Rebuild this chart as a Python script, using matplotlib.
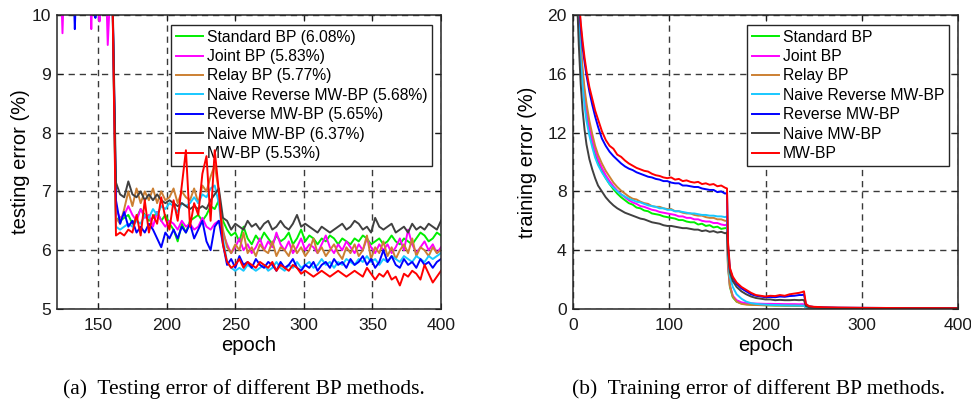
import matplotlib
matplotlib.use("Agg")
import matplotlib.pyplot as plt

plt.rcParams['font.family'] = ['Liberation Sans', 'DejaVu Sans']

labels_test = ["Standard BP (6.08%)", "Joint BP (5.83%)", "Relay BP (5.77%)",
               "Naive Reverse MW-BP (5.68%)", "Reverse MW-BP (5.65%)",
               "Naive MW-BP (6.37%)", "MW-BP (5.53%)"]
labels_train = ["Standard BP", "Joint BP", "Relay BP", "Naive Reverse MW-BP",
                "Reverse MW-BP", "Naive MW-BP", "MW-BP"]
colors = ["#00ee00", "#ff00ff", "#cc8033", "#19c8ff", "#0000ff", "#404040", "#ff0000"]

test_epochs = list(range(121, 401, 3))

std_test = [12, 12, 12, 12, 12, 12, 12, 12, 12, 12,
            12, 12, 12, 11, 6.55, 6.5, 6.55, 6.6, 6.45, 6.55,
            6.7, 6.6, 6.5, 6.55, 6.65, 6.5, 6.6, 6.45, 6.35, 6.15,
            6.45, 6.3, 6.5, 6.55, 6.6, 6.5, 6.6, 6.75, 6.7, 6.85,
            6.5, 6.35, 6.25, 6.3, 6.15, 6.4, 6.2, 6.1, 6.25, 6.15,
            6.3, 6.2, 6.1, 6.25, 6.15, 6.2, 6.3, 6.1, 6.2, 6.35,
            6.15, 6.25, 6.2, 6.1, 6.2, 6.15, 6.25, 6.2, 6.1, 6.2,
            6.15, 6.1, 6.2, 6.15, 6.25, 6.2, 6.1, 6.15, 6.2, 6.1,
            6.15, 6.25, 6.15, 6.1, 6.2, 6.15, 6.1, 6.2, 6.3, 6.25,
            6.15, 6.2, 6.3, 6.25]
joint_test = [12, 9.69, 12, 12, 12, 12, 12, 12, 9.76, 12,
              9.89, 12, 9.49, 11, 6.7, 6.55, 6.6, 6.75, 6.6, 6.5,
              6.7, 6.55, 6.6, 6.4, 6.65, 6.5, 6.4, 6.5, 6.45, 6.35,
              6.5, 6.4, 6.45, 6.35, 6.4, 6.55, 6.4, 6.35, 6.45, 6.5,
              6.3, 6.1, 5.95, 6.05, 6.2, 6.0, 6.1, 5.95, 6.05, 6.2,
              6.0, 6.15, 6.05, 6.3, 6.1, 6.0, 6.15, 5.95, 6.05, 6.2,
              6.0, 6.1, 6.05, 5.95, 6.1, 6.25, 6.05, 5.95, 6.1, 6.0,
              6.15, 6.05, 5.95, 6.1, 6.0, 6.2, 6.05, 5.95, 6.1, 6.0,
              6.1, 5.95, 6.05, 6.2, 6.0, 6.35, 6.1, 5.95, 6.05, 6.15,
              6.0, 6.1, 5.95, 6.05]
relay_test = [12, 12, 12, 12, 12, 12, 12, 12, 12, 12,
              12, 12, 12, 11, 6.55, 6.45, 6.7, 7.0, 6.75, 7.05,
              6.8, 7.0, 6.85, 7.05, 6.8, 7.0, 6.85, 6.9, 7.05, 6.8,
              7.0, 6.9, 6.85, 7.05, 6.8, 7.1, 7.0, 7.25, 7.45, 7.0,
              6.35, 6.05, 5.95, 6.1, 6.0, 6.3, 5.95, 6.05, 5.9, 6.1,
              6.0, 5.95, 6.15, 5.9, 6.05, 6.0, 5.9, 6.1, 5.95, 6.05,
              5.9, 6.0, 6.2, 5.95, 6.05, 5.9, 6.0, 6.1, 5.95, 5.85,
              6.05, 5.95, 6.1, 5.9, 6.0, 6.25, 5.85, 6.05, 5.95, 6.15,
              5.9, 6.05, 5.85, 6.0, 6.1, 5.95, 6.2, 5.9, 6.05, 6.0,
              5.9, 6.05, 5.95, 6.0]
nrev_test = [12, 12, 12, 12, 12, 12, 12, 12, 12, 12,
             12, 12, 12, 11, 6.4, 6.35, 6.4, 6.45, 6.4, 6.5,
             6.45, 6.6, 6.55, 6.7, 6.6, 6.75, 6.7, 6.8, 6.75, 6.65,
             6.8, 6.75, 6.8, 6.9, 6.8, 6.95, 6.9, 7.05, 7.1, 6.8,
             6.2, 5.8, 5.7, 5.65, 5.7, 5.65, 5.75, 5.7, 5.65, 5.7,
             5.75, 5.65, 5.7, 5.8, 5.7, 5.65, 5.75, 5.7, 5.8, 5.7,
             5.75, 5.8, 5.7, 5.75, 5.85, 5.75, 5.8, 5.7, 5.8, 5.75,
             5.85, 5.8, 5.75, 5.85, 5.8, 5.9, 5.8, 5.85, 5.75, 5.85,
             5.8, 5.9, 5.85, 5.8, 5.9, 5.85, 5.8, 5.9, 5.85, 5.8,
             5.9, 5.85, 5.9, 5.95]
rev_test = [12, 12, 12, 12, 9.76, 12, 12, 12, 12, 9.95,
            12, 12, 12, 11, 6.85, 6.45, 6.65, 6.4, 6.5, 6.3,
            6.4, 6.3, 6.45, 6.35, 6.2, 6.05, 6.3, 6.2, 6.35, 6.2,
            6.4, 6.3, 6.45, 6.2, 6.35, 6.5, 6.15, 6.0, 6.4, 6.5,
            6.1, 5.75, 5.85, 5.7, 5.9, 5.75, 5.8, 5.7, 5.85, 5.75,
            5.7, 5.8, 5.75, 5.65, 5.8, 5.7, 5.75, 5.85, 5.7, 5.65,
            5.75, 5.7, 5.8, 5.65, 5.75, 5.8, 5.7, 5.85, 5.75, 5.8,
            5.7, 5.85, 5.75, 5.8, 5.9, 5.75, 5.85, 5.7, 5.8, 6.0,
            5.8, 5.9, 5.75, 5.7, 5.85, 5.75, 5.8, 5.7, 5.85, 5.75,
            5.8, 5.7, 5.8, 5.85]
nmw_test = [12, 12, 12, 12, 12, 12, 12, 12, 12, 12,
            12, 12, 12, 11, 7.15, 6.95, 6.9, 7.17, 6.95, 6.9,
            7.0, 6.85, 6.95, 6.85, 6.95, 6.85, 6.8, 6.85, 6.8, 6.75,
            6.8, 6.75, 6.7, 6.75, 6.7, 6.75, 6.7, 6.85, 6.95, 7.05,
            6.55, 6.5, 6.35, 6.45, 6.4, 6.35, 6.5, 6.4, 6.45, 6.35,
            6.45, 6.5, 6.35, 6.4, 6.5, 6.4, 6.35, 6.45, 6.6, 6.4,
            6.45, 6.4, 6.35, 6.3, 6.4, 6.35, 6.3, 6.35, 6.4, 6.45,
            6.35, 6.4, 6.5, 6.45, 6.35, 6.4, 6.3, 6.55, 6.4, 6.35,
            6.4, 6.45, 6.3, 6.35, 6.4, 6.3, 6.45, 6.35, 6.4, 6.35,
            6.45, 6.4, 6.35, 6.5]
mw_test = [12, 12, 12, 12, 12, 12, 12, 12, 12, 12,
           12, 12, 12, 11, 6.25, 6.3, 6.25, 6.35, 6.3, 6.6,
           6.25, 6.85, 6.3, 6.6, 6.45, 6.9, 6.55, 6.35, 6.85, 6.5,
           7.1, 7.7, 6.4, 6.8, 6.6, 7.3, 7.6, 6.5, 7.7, 7.0,
           6.1, 5.8, 5.7, 5.75, 5.85, 5.7, 5.8, 5.75, 5.7, 5.8,
           5.75, 5.7, 5.8, 5.65, 5.75, 5.7, 5.65, 5.75, 5.7, 5.6,
           5.65, 5.6, 5.55, 5.6, 5.65, 5.6, 5.55, 5.6, 5.65, 5.6,
           5.55, 5.6, 5.65, 5.6, 5.55, 5.7, 5.6, 5.5, 5.6, 5.55,
           5.65, 5.5, 5.55, 5.4, 5.6, 5.55, 5.65, 5.6, 5.5, 5.75,
           5.6, 5.45, 5.55, 5.65]

train_epochs = [0, 2, 4, 6, 8, 10, 12, 14, 17, 20,
                23, 26, 30, 34, 38, 42, 46, 50, 54, 58,
                62, 66, 70, 74, 78, 82, 86, 90, 94, 98,
                102, 106, 110, 114, 118, 122, 126, 130, 134, 138,
                142, 146, 150, 154, 158, 160, 161, 163, 166, 170,
                175, 180, 185, 190, 195, 200, 205, 210, 215, 220,
                225, 230, 235, 238, 240, 242, 245, 250, 260, 275,
                300, 325, 350, 375, 400]

std_train = [30, 26, 23, 19.8, 17.5, 15.8, 14.5, 13.4, 12.2, 11.3,
             10.5, 10.0, 9.4, 8.9, 8.5, 8.15, 7.85, 7.6, 7.4, 7.2,
             7.1, 6.9, 6.85, 6.7, 6.65, 6.5, 6.45, 6.4, 6.3, 6.25,
             6.2, 6.15, 6.05, 6.05, 5.95, 5.9, 5.9, 5.75, 5.8, 5.65,
             5.7, 5.55, 5.6, 5.45, 5.5, 5.5, 2.9, 1.5, 0.8, 0.5,
             0.38, 0.33, 0.3, 0.28, 0.27, 0.26, 0.25, 0.24, 0.24, 0.23,
             0.23, 0.22, 0.22, 0.22, 0.22, 0.12, 0.1, 0.08, 0.07, 0.06,
             0.05, 0.05, 0.05, 0.05, 0.05]
joint_train = [30, 26, 23, 20.0, 17.7, 16.0, 14.7, 13.6, 12.4, 11.5,
               10.8, 10.2, 9.6, 9.1, 8.7, 8.35, 8.05, 7.8, 7.6, 7.4,
               7.25, 7.15, 7.0, 6.95, 6.85, 6.75, 6.7, 6.6, 6.55, 6.5,
               6.45, 6.4, 6.3, 6.3, 6.2, 6.2, 6.1, 6.1, 6.0, 5.95,
               5.95, 5.85, 5.85, 5.75, 5.7, 5.75, 3.0, 1.6, 0.9, 0.6,
               0.45, 0.4, 0.38, 0.37, 0.36, 0.35, 0.35, 0.34, 0.34, 0.33,
               0.33, 0.33, 0.32, 0.33, 0.32, 0.13, 0.1, 0.08, 0.07, 0.06,
               0.05, 0.05, 0.05, 0.05, 0.05]
relay_train = [30, 26, 23, 20.2, 18.0, 16.3, 15.0, 14.0, 12.8, 11.9,
               11.1, 10.5, 9.9, 9.4, 9.0, 8.6, 8.3, 8.05, 7.85, 7.65,
               7.5, 7.45, 7.3, 7.2, 7.15, 7.0, 6.95, 6.95, 6.85, 6.8,
               6.8, 6.65, 6.65, 6.55, 6.5, 6.5, 6.4, 6.35, 6.35, 6.25,
               6.2, 6.2, 6.1, 6.1, 6.0, 6.0, 3.1, 1.6, 0.85, 0.5,
               0.35, 0.3, 0.28, 0.27, 0.26, 0.25, 0.25, 0.24, 0.24, 0.23,
               0.23, 0.23, 0.22, 0.22, 0.22, 0.12, 0.1, 0.08, 0.07, 0.06,
               0.05, 0.05, 0.05, 0.05, 0.05]
nrev_train = [30, 26, 23, 19.5, 17.0, 15.2, 13.8, 12.8, 11.8, 11.0,
              10.3, 9.8, 9.3, 8.9, 8.5, 8.25, 8.0, 7.8, 7.65, 7.5,
              7.4, 7.3, 7.25, 7.15, 7.05, 7.0, 6.95, 6.85, 6.85, 6.75,
              6.75, 6.65, 6.65, 6.6, 6.55, 6.5, 6.5, 6.45, 6.4, 6.4,
              6.35, 6.35, 6.3, 6.3, 6.25, 6.3, 3.6, 2.2, 1.5, 1.0,
              0.7, 0.5, 0.4, 0.35, 0.32, 0.3, 0.28, 0.27, 0.26, 0.25,
              0.24, 0.24, 0.23, 0.23, 0.22, 0.12, 0.1, 0.08, 0.07, 0.06,
              0.05, 0.05, 0.05, 0.05, 0.05]
rev_train = [30, 27, 24, 21, 19.2, 17.8, 16.8, 15.9, 14.8, 13.9,
             13.1, 12.4, 11.6, 11.1, 10.7, 10.4, 10.15, 9.9, 9.7, 9.55,
             9.45, 9.3, 9.2, 9.1, 9.0, 8.95, 8.85, 8.8, 8.7, 8.7,
             8.6, 8.55, 8.55, 8.4, 8.4, 8.35, 8.3, 8.3, 8.2, 8.15,
             8.1, 8.1, 7.95, 8.0, 7.85, 7.9, 4.4, 2.7, 2.1, 1.7,
             1.4, 1.2, 1.0, 0.9, 0.85, 0.8, 0.82, 0.8, 0.85, 0.83,
             0.88, 0.9, 0.95, 0.95, 1.0, 0.3, 0.18, 0.14, 0.11, 0.09,
             0.08, 0.07, 0.06, 0.06, 0.05]
nmw_train = [30, 25, 21.5, 18.0, 15.3, 13.5, 12.2, 11.2, 10.2, 9.5,
             8.9, 8.4, 8.0, 7.6, 7.3, 7.05, 6.85, 6.7, 6.55, 6.45,
             6.35, 6.25, 6.15, 6.1, 6.0, 5.9, 5.85, 5.8, 5.7, 5.65,
             5.65, 5.6, 5.55, 5.5, 5.5, 5.45, 5.4, 5.4, 5.3, 5.35,
             5.25, 5.3, 5.2, 5.25, 5.15, 5.2, 3.9, 2.5, 1.9, 1.5,
             1.2, 1.0, 0.85, 0.75, 0.7, 0.65, 0.65, 0.6, 0.62, 0.6,
             0.6, 0.62, 0.6, 0.62, 0.6, 0.2, 0.13, 0.1, 0.08, 0.07,
             0.06, 0.05, 0.05, 0.05, 0.05]
mw_train = [30, 27, 24, 21.3, 19.5, 18.2, 17.1, 16.2, 15.1, 14.3,
            13.5, 12.9, 12.1, 11.5, 11.1, 10.9, 10.5, 10.35, 10.1, 9.9,
            9.75, 9.6, 9.5, 9.4, 9.35, 9.2, 9.1, 9.05, 8.95, 8.9,
            8.95, 8.8, 8.85, 8.7, 8.75, 8.65, 8.6, 8.65, 8.5, 8.55,
            8.45, 8.5, 8.35, 8.4, 8.25, 8.2, 4.6, 2.8, 2.2, 1.8,
            1.5, 1.3, 1.1, 0.95, 0.9, 0.85, 0.9, 0.88, 0.95, 0.9,
            1.0, 1.05, 1.1, 1.15, 1.2, 0.35, 0.2, 0.15, 0.12, 0.1,
            0.08, 0.07, 0.06, 0.06, 0.05]

test_series = [std_test, joint_test, relay_test, nrev_test, rev_test, nmw_test, mw_test]
train_series = [std_train, joint_train, relay_train, nrev_train, rev_train, nmw_train, mw_train]

test_xticks = [150, 200, 250, 300, 350, 400]
test_yticks = [5, 6, 7, 8, 9, 10]
train_xticks = [0, 100, 200, 300, 400]
train_yticks = [0, 4, 8, 12, 16, 20]

W, H = 971, 403
fig = plt.figure(figsize=(W / 100, H / 100), dpi=100)
ax1 = fig.add_axes([57 / W, 1 - 309 / H, 384 / W, 294 / H])
ax2 = fig.add_axes([573 / W, 1 - 309 / H, 385 / W, 294 / H])


def style(ax):
    ax.set_axisbelow(True)
    ax.grid(True, linestyle=(0, (4.5, 3.5)), color='#3a3a3a', linewidth=1.0)
    ax.tick_params(direction='in', top=True, right=True, length=4, width=0.8,
                   labelsize=12.6, colors='#1a1a1a')
    ax.tick_params(axis='x', pad=6.5)
    ax.tick_params(axis='y', pad=4.5)
    for s in ax.spines.values():
        s.set_linewidth(1.1)
        s.set_color('#262626')


def add_legend(ax):
    leg = ax.legend(loc='upper right', bbox_to_anchor=(0.976, 0.966), borderaxespad=0,
                    fontsize=11.3, handlelength=1.75, handletextpad=0.2,
                    labelspacing=0.28, borderpad=0.3, fancybox=False,
                    edgecolor='#262626', framealpha=1)
    leg.get_frame().set_linewidth(1.0)
    leg.set_zorder(1.5)


for ys, c, lab in zip(test_series, colors, labels_test):
    ax1.plot(test_epochs, ys, color=c, lw=1.4, label=lab)
ax1.set_xlim(120, 400)
ax1.set_ylim(5, 10)
ax1.set_xticks(test_xticks)
ax1.set_yticks(test_yticks)
style(ax1)
ax1.set_xlabel("epoch", fontsize=14.5, labelpad=2)
ax1.set_ylabel("testing error (%)", fontsize=14.5)
ax1.yaxis.set_label_coords(-0.070, 0.5)
add_legend(ax1)

for ys, c, lab in zip(train_series, colors, labels_train):
    ax2.plot(train_epochs, ys, color=c, lw=1.4, label=lab)
ax2.set_xlim(0, 400)
ax2.set_ylim(0, 20)
ax2.set_xticks(train_xticks)
ax2.set_yticks(train_yticks)
style(ax2)
ax2.set_xlabel("epoch", fontsize=14.5, labelpad=2)
ax2.set_ylabel("training error (%)", fontsize=14.5)
ax2.yaxis.set_label_coords(-0.0935, 0.5)
add_legend(ax2)

fig.text(244 / W, 1 - 394 / H, "(a)  Testing error of different BP methods.",
         family=['Liberation Serif'], fontsize=15.5, ha='center', va='baseline')
fig.text(758 / W, 1 - 394 / H, "(b)  Training error of different BP methods.",
         family=['Liberation Serif'], fontsize=15.5, ha='center', va='baseline')

fig.savefig("out.png", dpi=100)
